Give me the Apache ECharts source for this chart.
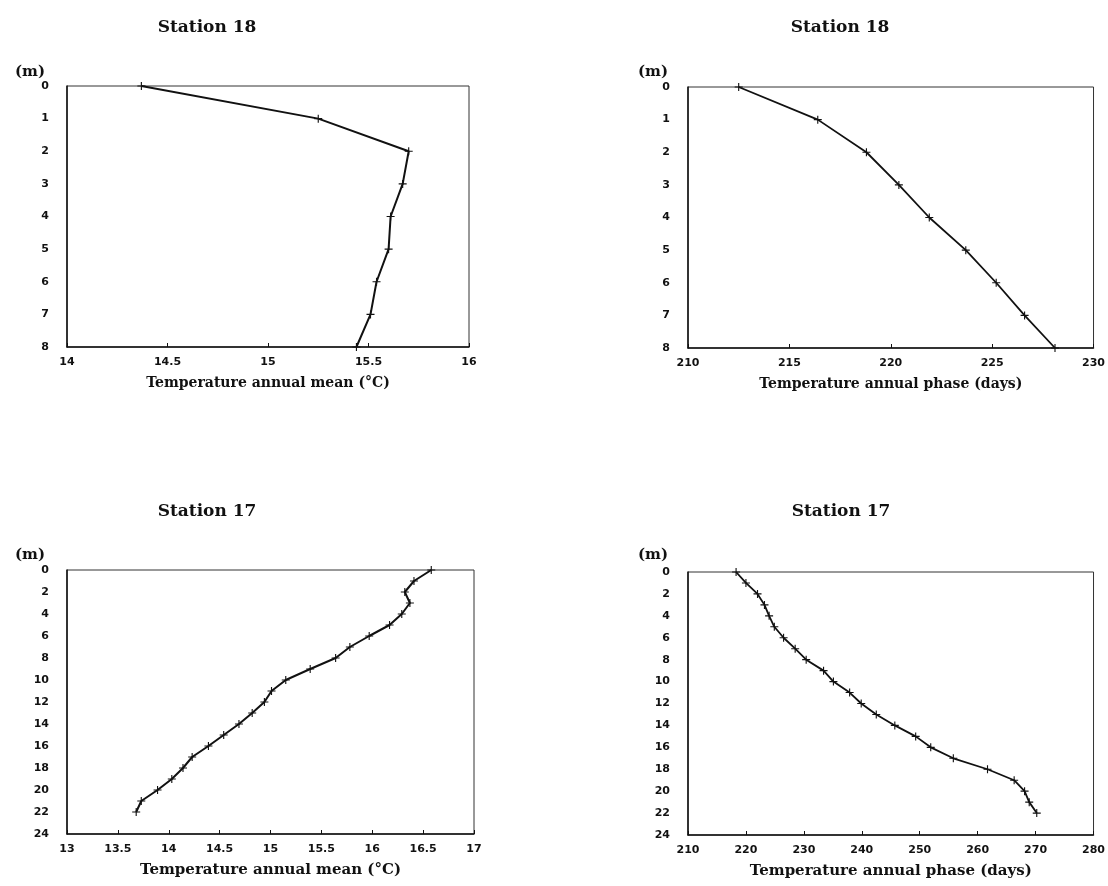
<!DOCTYPE html>
<html>
<head>
<meta charset="utf-8">
<script src="https://cdn.jsdelivr.net/npm/echarts@6.0.0/dist/echarts.min.js"></script>
<style>
  html, body { margin: 0; padding: 0; background: #fff; }
  #main { width: 1108px; height: 886px; }
</style>
</head>
<body>
<div id="main"></div>
<script>
// depths (m)
var depth18 = [0, 1, 2, 3, 4, 5, 6, 7, 8];
var depth17 = [0, 1, 2, 3, 4, 5, 6, 7, 8, 9, 10, 11, 12, 13, 14, 15, 16, 17, 18, 19, 20, 21, 22];

// station 18
var mean18  = [14.37, 15.25, 15.70, 15.67, 15.61, 15.60, 15.54, 15.51, 15.44];
var phase18 = [212.5, 216.4, 218.8, 220.4, 221.9, 223.7, 225.2, 226.6, 228.1];

// station 17
var mean17  = [16.58, 16.41, 16.32, 16.37, 16.29, 16.17, 15.97, 15.78, 15.64, 15.39, 15.15, 15.01,
               14.94, 14.82, 14.69, 14.54, 14.39, 14.23, 14.14, 14.03, 13.89, 13.73, 13.68];
var phase17 = [218.3, 220.0, 222.0, 223.2, 224.0, 224.9, 226.5, 228.5, 230.4, 233.4, 235.1, 237.9,
               239.9, 242.5, 245.7, 249.3, 251.9, 255.8, 261.7, 266.3, 268.1, 268.9, 270.2];

var titles = ['Station 18', 'Station 18', 'Station 17', 'Station 17'];
var xNames = ['Temperature annual mean (°C)', 'Temperature annual phase (days)',
              'Temperature annual mean (°C)', 'Temperature annual phase (days)'];

var serif = 'DejaVu Serif';
var sans = 'DejaVu Sans';
var plus = 'path://M0,4.3 L10,4.3 L10,5.7 L0,5.7 Z M4.3,0 L5.7,0 L5.7,10 L4.3,10 Z';

function pairs(xs, ys) {
  return xs.map(function (v, i) { return [v, ys[i]]; });
}

function xAxis(idx, min, max, interval, name, size) {
  return {
    gridIndex: idx, type: 'value', position: 'bottom', min: min, max: max, interval: interval,
    name: name, nameLocation: 'middle', nameGap: 29,
    nameTextStyle: { fontFamily: serif, fontWeight: 'bold', fontSize: size, color: '#111' },
    axisLine: { onZero: false, lineStyle: { color: '#111', width: 1.5 } },
    axisTick: { inside: true, length: 4, lineStyle: { color: '#111' } },
    axisLabel: { margin: 10, fontFamily: sans, fontWeight: 'bold', fontSize: 11, color: '#111' },
    splitLine: { show: false }
  };
}

function yAxis(idx, max, interval) {
  return {
    gridIndex: idx, type: 'value', inverse: true, min: 0, max: max, interval: interval,
    axisLine: { onZero: false, lineStyle: { color: '#111', width: 1.5 } },
    axisTick: { show: false },
    axisLabel: { margin: 18, fontFamily: sans, fontWeight: 'bold', fontSize: 11, color: '#111' },
    splitLine: { show: false }
  };
}

function line(idx, data, width) {
  return {
    type: 'line', xAxisIndex: idx, yAxisIndex: idx, data: data,
    symbol: plus, symbolSize: 8, showSymbol: true, animation: false,
    lineStyle: { color: '#111', width: width },
    itemStyle: { color: '#111' }
  };
}

var boxStyle = { show: true, borderColor: '#333', borderWidth: 1, backgroundColor: 'transparent' };

var titleText = function (text, left, top, size) {
  return {
    text: text, left: left, top: top, textAlign: 'center',
    textStyle: { fontFamily: serif, fontWeight: 'bold', fontSize: size, color: '#111' }
  };
};

var chart = echarts.init(document.getElementById('main'));
chart.setOption({
  backgroundColor: '#fff',
  title: [
    titleText(titles[0], 202, 14, 17),
    titleText(titles[1], 835, 14, 17),
    titleText(titles[2], 202, 498, 17),
    titleText(titles[3], 836, 498, 17),
    titleText('(m)', 25, 60, 15),
    titleText('(m)', 648, 60, 15),
    titleText('(m)', 25, 543, 15),
    titleText('(m)', 648, 543, 15)
  ],
  grid: [
    Object.assign({ left: 67, top: 86, width: 402, height: 261 }, boxStyle),
    Object.assign({ left: 688, top: 87, width: 407, height: 261 }, boxStyle),
    Object.assign({ left: 67, top: 570, width: 407, height: 264 }, boxStyle),
    Object.assign({ left: 688, top: 572, width: 409, height: 263 }, boxStyle)
  ],
  xAxis: [
    xAxis(0, 14, 16, 0.5, xNames[0], 14),
    xAxis(1, 210, 230, 5, xNames[1], 14),
    xAxis(2, 13, 17, 0.5, xNames[2], 15),
    xAxis(3, 210, 280, 10, xNames[3], 15)
  ],
  yAxis: [
    yAxis(0, 8, 1),
    yAxis(1, 8, 1),
    yAxis(2, 24, 2),
    yAxis(3, 24, 2)
  ],
  series: [
    line(0, pairs(mean18, depth18), 2),
    line(1, pairs(phase18, depth18), 1.8),
    line(2, pairs(mean17, depth17), 2),
    line(3, pairs(phase17, depth17), 1.8)
  ]
});
</script>
</body>
</html>
